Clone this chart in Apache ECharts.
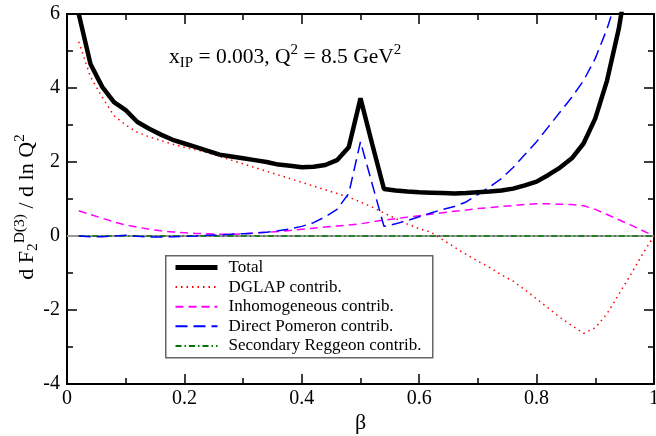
<!DOCTYPE html>
<html>
<head>
<meta charset="utf-8">
<script src="https://cdn.jsdelivr.net/npm/echarts@6/dist/echarts.min.js"></script>
<style>html,body{margin:0;padding:0;background:#fff}#c{width:656px;height:436px}</style>
</head>
<body>
<div id="c"></div>
<script>
// beta grid (0.02 .. 1.00)
const beta = [0.02,0.04,0.06,0.08,0.10,0.12,0.14,0.16,0.18,0.20,0.22,0.24,0.26,0.28,0.30,0.32,0.34,0.36,0.38,0.40,0.42,0.44,0.46,0.48,0.50,0.52,0.54,0.56,0.58,0.60,0.62,0.64,0.66,0.68,0.70,0.72,0.74,0.76,0.78,0.80,0.82,0.84,0.86,0.88,0.90,0.92,0.94,0.96,0.98,1.00];

const total = [6.0,4.65,4.03,3.62,3.4,3.08,2.9,2.74,2.6,2.5,2.4,2.3,2.2,2.15,2.1,2.05,2.0,1.93,1.9,1.86,1.87,1.92,2.05,2.4,3.72,2.48,1.27,1.23,1.2,1.18,1.17,1.16,1.15,1.16,1.18,1.2,1.23,1.28,1.37,1.47,1.65,1.85,2.1,2.5,3.18,4.2,5.6,7.5];

const dglap = [5.25,4.3,3.75,3.25,3.0,2.8,2.68,2.58,2.48,2.4,2.33,2.25,2.15,2.05,1.95,1.85,1.75,1.65,1.55,1.45,1.35,1.25,1.15,1.05,0.92,0.78,0.62,0.47,0.32,0.2,0.1,-0.1,-0.3,-0.5,-0.68,-0.85,-1.05,-1.22,-1.45,-1.7,-1.95,-2.2,-2.42,-2.63,-2.48,-2.1,-1.58,-1.05,-0.5,0.0];

const inhom = [0.68,0.58,0.48,0.38,0.3,0.24,0.18,0.14,0.11,0.09,0.07,0.06,0.05,0.05,0.06,0.08,0.1,0.12,0.15,0.18,0.21,0.24,0.27,0.3,0.33,0.38,0.43,0.47,0.51,0.55,0.59,0.63,0.67,0.7,0.74,0.77,0.8,0.82,0.85,0.87,0.87,0.86,0.85,0.82,0.72,0.58,0.44,0.3,0.15,0.0];

const direct = [0.0,-0.02,-0.02,0.0,0.02,-0.01,-0.03,-0.03,-0.02,-0.01,0.0,0.02,0.03,0.05,0.06,0.08,0.1,0.14,0.19,0.26,0.36,0.52,0.72,1.15,2.55,1.4,0.26,0.33,0.42,0.52,0.62,0.72,0.8,0.92,1.12,1.33,1.55,1.85,2.2,2.55,2.95,3.35,3.75,4.2,4.8,5.6,6.6];

const reggeon = [0,0,0,0,0,0,0,0,0,0,0,0,0,0,0,0,0,0,0,0,0,0,0,0,0,0,0,0,0,0,0,0,0,0,0,0,0,0,0,0,0,0,0,0,0,0,0,0,0,0];

const xTicks = ['0','0.2','0.4','0.6','0.8','1'];
const yTicks = ['-4','-2','0','2','4','6'];
const names = ['Total','DGLAP contrib.','Inhomogeneous contrib.','Direct Pomeron contrib.','Secondary Reggeon contrib.'];

function pairs(ys){ return ys.map((v,i)=>[beta[i], v]); }

const FONT = 'Liberation Serif';
const chart = echarts.init(document.getElementById('c'), null, {renderer:'canvas'});

function axisStyle(extra){
  return Object.assign({
    axisLine:{show:true, onZero:false, lineStyle:{color:'#000', width:2}},
    axisTick:{show:true, inside:true, length:10, lineStyle:{color:'#000', width:1.5}},
    minorTick:{show:true, splitNumber:2, length:6, lineStyle:{color:'#000', width:1.5}},
    splitLine:{show:false},
    minorSplitLine:{show:false}
  }, extra);
}

chart.setOption({
  animation:false,
  backgroundColor:'#fff',
  grid:{left:67, right:2, top:14, bottom:52, containLabel:false, outerBoundsMode:'none'},
  xAxis:[
    axisStyle({type:'value', min:0, max:1, interval:0.2, position:'bottom',
      name:'β', nameLocation:'middle', nameGap:28, nameMoveOverlap:false,
      nameTextStyle:{fontFamily:FONT, fontSize:22, color:'#000'},
      axisLabel:{fontFamily:FONT, fontSize:20, color:'#000', margin:5,
        formatter:v=>xTicks[Math.round(v/0.2)]}}),
    axisStyle({type:'value', min:0, max:1, interval:0.2, position:'top',
      axisLabel:{show:false}})
  ],
  yAxis:[
    axisStyle({type:'value', min:-4, max:6, interval:2, position:'left',
      name:'{t|d F}{s|2}{p|D(3)}{t| / d ln Q}{p|2}', nameLocation:'middle', nameGap:25, nameRotate:90,
      nameMoveOverlap:false,
      nameTextStyle:{fontFamily:FONT, color:'#000', padding:[0,16,0,0],
        rich:{
          t:{fontFamily:FONT, fontSize:22, color:'#000'},
          s:{fontFamily:FONT, fontSize:15.5, color:'#000', padding:[12,0,0,0]},
          p:{fontFamily:FONT, fontSize:15.5, color:'#000', padding:[0,0,14,0]}
        }},
      axisLabel:{fontFamily:FONT, fontSize:20, color:'#000', margin:7,
        formatter:v=>yTicks[Math.round((v+4)/2)]}}),
    axisStyle({type:'value', min:-4, max:6, interval:2, position:'right',
      axisLabel:{show:false}})
  ],
  legend:{
    left:173, top:259, orient:'vertical', padding:0,
    itemWidth:42, itemHeight:16, itemGap:2.6,
    itemStyle:{color:'rgba(0,0,0,0)', borderWidth:0, opacity:0},
    data:[
      {name:names[0], lineStyle:{width:5}},
      {name:names[1]},
      {name:names[2]},
      {name:names[3]},
      {name:names[4]}
    ],
    textStyle:{fontFamily:FONT, fontSize:17, color:'#000', padding:[0,0,0,6]}
  },
  graphic:[
    {type:'rect', left:165, top:255, shape:{width:267, height:102}, z:-1,
      style:{fill:'#fff', stroke:'#666', lineWidth:1.5}},
    {type:'text', left:169, top:43, z:10,
      style:{text:'{t|x}{s|IP}{t| = 0.003, Q}{p|2}{t| = 8.5 GeV}{p|2}',
        rich:{
          t:{fontFamily:FONT, fontSize:21.5, fill:'#000'},
          s:{fontFamily:FONT, fontSize:15, fill:'#000', padding:[12,0,0,0]},
          p:{fontFamily:FONT, fontSize:15, fill:'#000', padding:[0,0,13,0]}
        }}}
  ],
  series:[
    {name:names[4], type:'line', data:pairs(reggeon), showSymbol:false, symbol:'none', z:3,
      lineStyle:{color:'#007700', width:1.5, type:[6,3,1.5,3]}, itemStyle:{color:'#007700'},
      markLine:{silent:true, symbol:'none', label:{show:false}, data:[{yAxis:0}],
        lineStyle:{color:'#999', width:2, type:'solid'}, z:2}},
    {name:names[1], type:'line', data:pairs(dglap), showSymbol:false, symbol:'none', z:4,
      lineStyle:{color:'#ff0000', width:1.5, type:[1.5,4]}, itemStyle:{color:'#ff0000'}},
    {name:names[2], type:'line', data:pairs(inhom), showSymbol:false, symbol:'none', z:4,
      lineStyle:{color:'#ff00ff', width:1.5, type:[8,5]}, itemStyle:{color:'#ff00ff'}},
    {name:names[3], type:'line', data:pairs(direct), showSymbol:false, symbol:'none', z:4,
      lineStyle:{color:'#0000ff', width:1.5, type:[12,6]}, itemStyle:{color:'#0000ff'}},
    {name:names[0], type:'line', data:pairs(total), showSymbol:false, symbol:'none', z:5,
      lineStyle:{color:'#000', width:4.5}, itemStyle:{color:'#000'}}
  ]
});
</script>
</body>
</html>
